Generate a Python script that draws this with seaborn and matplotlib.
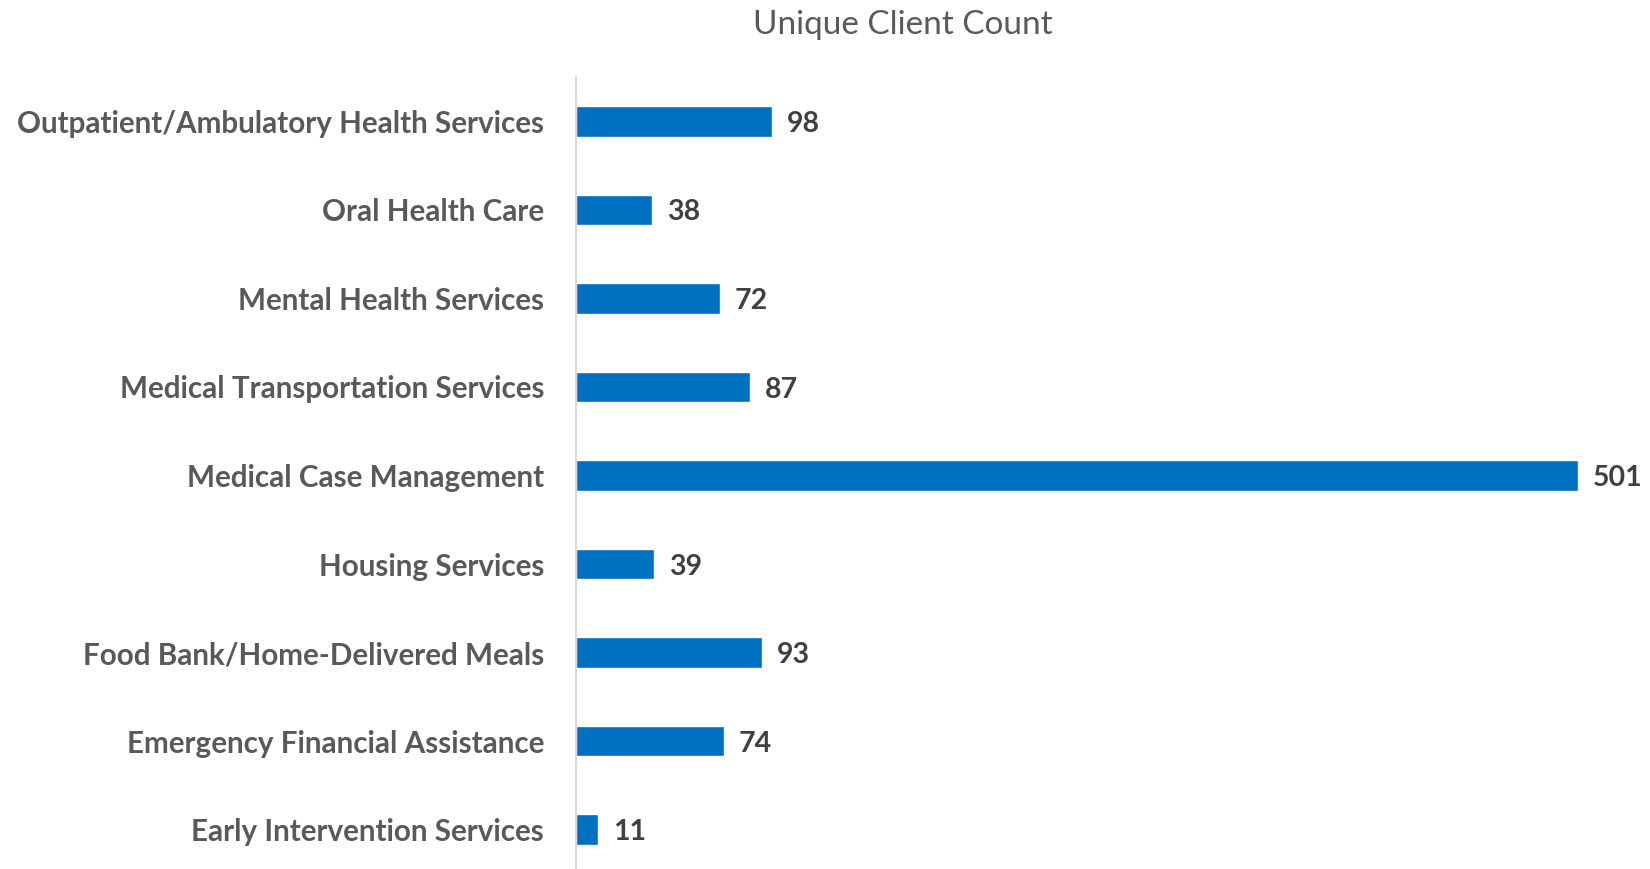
import matplotlib
matplotlib.use("Agg")
import matplotlib.pyplot as plt
import seaborn as sns

categories = [
    "Outpatient/Ambulatory Health Services",
    "Oral Health Care",
    "Mental Health Services",
    "Medical Transportation Services",
    "Medical Case Management",
    "Housing Services",
    "Food Bank/Home-Delivered Meals",
    "Emergency Financial Assistance",
    "Early Intervention Services",
]
client_counts = [98, 38, 72, 87, 501, 39, 93, 74, 11]

sns.set_style("white")
plt.rcParams["font.family"] = ["Lato", "DejaVu Sans"]

fig = plt.figure(figsize=(16.5, 8.69), dpi=100)
ax = fig.add_axes([576 / 1650, -5 / 869, 1074 / 1650, 797 / 869])

sns.barplot(x=client_counts, y=categories, orient="h", color="#0070C0",
            saturation=1, width=0.345, ax=ax)

ax.set_xlim(0, 537)
ax.set_ylim(len(categories) - 0.5, -0.5)

for i, v in enumerate(client_counts):
    ax.text(v + 7.5, i + 0.03, str(v), va="center", ha="left", fontsize=20.5,
            fontweight="bold", color="#404040")

for side in ["top", "right", "bottom"]:
    ax.spines[side].set_visible(False)
ax.spines["left"].set_color("#D9D9D9")
ax.spines["left"].set_linewidth(1.5)
ax.set_xticks([])
ax.set_xlabel("")
ax.set_ylabel("")
ax.tick_params(axis="y", length=0, pad=23)
for lbl in ax.get_yticklabels():
    lbl.set_fontsize(21.3)
    lbl.set_fontweight("bold")
    lbl.set_color("#595959")

fig.text(903 / 1650, 1 - 25 / 869, "Unique Client Count", ha="center",
         va="center", fontsize=24, color="#595959")

fig.savefig("out.png", dpi=100)
